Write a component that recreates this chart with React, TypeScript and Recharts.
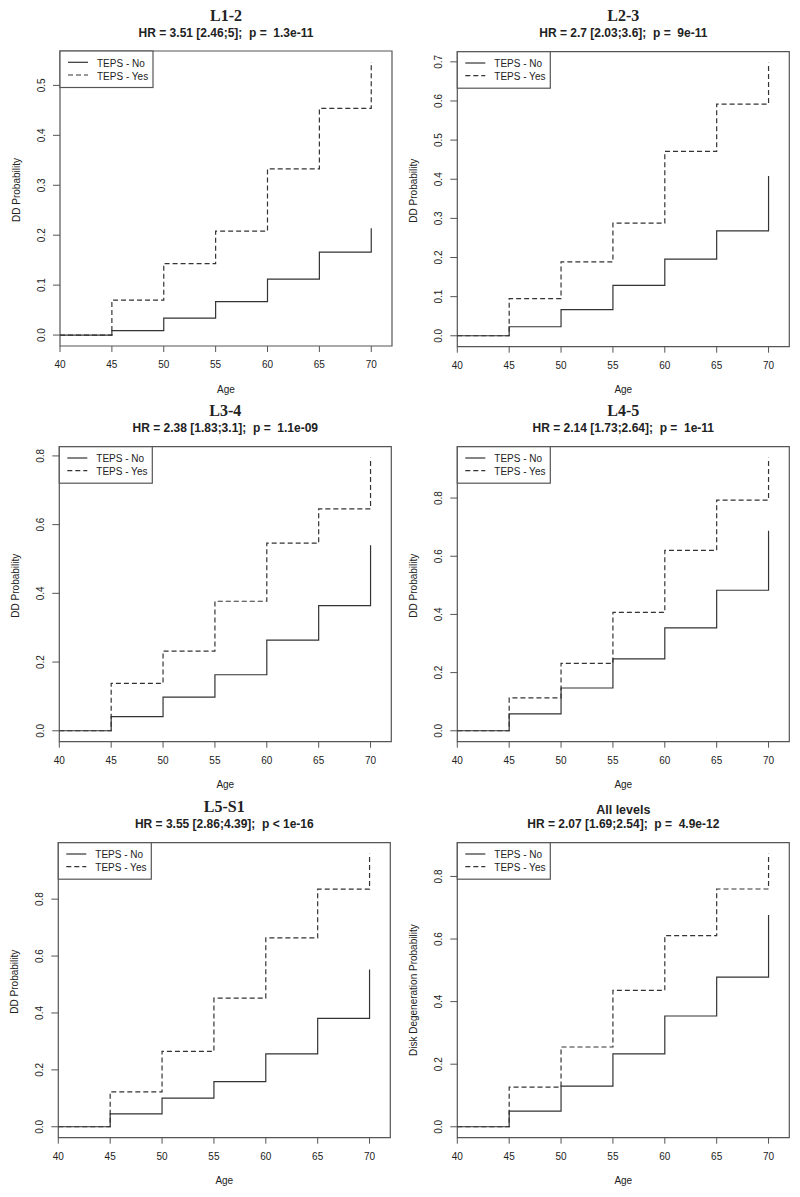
import React from 'react';
import { LineChart, Line, XAxis, YAxis, ReferenceArea } from 'recharts';

// ages where the curves step up
const ages = [40, 45, 50, 55, 60, 65, 70];

// cumulative DD probability, TEPS - No / TEPS - Yes
const l12No = [0, 0.009, 0.034, 0.067, 0.112, 0.166, 0.214];
const l12Yes = [0, 0.070, 0.143, 0.208, 0.333, 0.454, 0.547];
const l23No = [0, 0.023, 0.067, 0.129, 0.196, 0.268, 0.408];
const l23Yes = [0, 0.095, 0.189, 0.288, 0.471, 0.592, 0.698];
const l34No = [0, 0.041, 0.098, 0.163, 0.264, 0.364, 0.540];
const l34Yes = [0, 0.138, 0.232, 0.377, 0.546, 0.646, 0.795];
const l45No = [0, 0.058, 0.147, 0.247, 0.354, 0.483, 0.688];
const l45Yes = [0, 0.113, 0.232, 0.407, 0.620, 0.793, 0.939];
const l5s1No = [0, 0.045, 0.101, 0.159, 0.256, 0.381, 0.553];
const l5s1Yes = [0, 0.123, 0.265, 0.452, 0.664, 0.835, 0.960];
const allNo = [0, 0.050, 0.130, 0.233, 0.354, 0.478, 0.677];
const allYes = [0, 0.127, 0.255, 0.436, 0.611, 0.760, 0.873];

const ticksTenth5 = [0, 0.1, 0.2, 0.3, 0.4, 0.5];
const ticksTenth7 = [0, 0.1, 0.2, 0.3, 0.4, 0.5, 0.6, 0.7];
const ticksFifth8 = [0, 0.2, 0.4, 0.6, 0.8];

const titles = ['L1-2', 'L2-3', 'L3-4', 'L4-5', 'L5-S1', 'All levels'];
const subtitles = [
    'HR = 3.51 [2.46;5];  p =  1.3e-11',
    'HR = 2.7 [2.03;3.6];  p =  9e-11',
    'HR = 2.38 [1.83;3.1];  p =  1.1e-09',
    'HR = 2.14 [1.73;2.64];  p =  1e-11',
    'HR = 3.55 [2.86;4.39];  p < 1e-16',
    'HR = 2.07 [1.69;2.54];  p =  4.9e-12',
];

const SANS = "'Liberation Sans', Arial, sans-serif";
const SERIF = "'Liberation Serif', 'Times New Roman', serif";
const INK = '#222';
const LINE = '#333';
const FRAME = '#555';
const BOX_W = 332;
const BOX_H = 295;

const panels = [
    { left: 0, top: 0, boxLeft: 60, boxTop: 51, no: l12No, yes: l12Yes, yTicks: ticksTenth5, yLabel: 'DD Probability', serifTitle: true },
    { left: 400, top: 0, boxLeft: 57.3, boxTop: 51.7, no: l23No, yes: l23Yes, yTicks: ticksTenth7, yLabel: 'DD Probability', serifTitle: true },
    { left: 0, top: 395, boxLeft: 59.3, boxTop: 51.7, no: l34No, yes: l34Yes, yTicks: ticksFifth8, yLabel: 'DD Probability', serifTitle: true },
    { left: 400, top: 395, boxLeft: 57.3, boxTop: 51.7, no: l45No, yes: l45Yes, yTicks: ticksFifth8, yLabel: 'DD Probability', serifTitle: true },
    { left: 0, top: 795, boxLeft: 58.3, boxTop: 47.7, no: l5s1No, yes: l5s1Yes, yTicks: ticksFifth8, yLabel: 'DD Probability', serifTitle: true },
    { left: 400, top: 795, boxLeft: 57.3, boxTop: 47.7, no: allNo, yes: allYes, yTicks: ticksFifth8, yLabel: 'Disk Degeneration Probability', serifTitle: false },
];

const XTick = (props: any) => {
    const { x, y, payload } = props;
    return (
        <text x={x} y={y + 14} textAnchor="middle" fontFamily={SANS} fontSize={10} fill={INK}>
            {payload.value}
        </text>
    );
};

const YTick = (props: any) => {
    const { x, y, payload } = props;
    return (
        <text transform={`translate(${x - 6},${y}) rotate(-90)`} textAnchor="middle" fontFamily={SANS} fontSize={10} fill={INK}>
            {Number(payload.value).toFixed(1)}
        </text>
    );
};

const Panel = ({ p, idx }: any) => {
    const W = 400;
    const H = 400;
    const max = Math.max(...p.yes);
    const yMin = -0.04 * max;
    const yMax = 1.04 * max;
    const data = ages.map((a, i) => ({ age: a, no: p.no[i], yes: p.yes[i] }));
    const cx = p.boxLeft + BOX_W / 2;
    const yLabelShift = p.yLabel === 'DD Probability' ? -8.5 : 0;

    return (
        <div style={{ position: 'absolute', left: p.left, top: p.top, width: W, height: H }}>
            <LineChart
                width={W}
                height={H}
                data={data}
                margin={{ top: p.boxTop, right: W - p.boxLeft - BOX_W, bottom: 0, left: 0 }}
            >
                <XAxis
                    dataKey="age"
                    type="number"
                    domain={[40, 72]}
                    ticks={ages}
                    height={H - p.boxTop - BOX_H}
                    axisLine={false}
                    tickLine={{ stroke: FRAME }}
                    tickSize={6}
                    tick={<XTick />}
                    interval={0}
                />
                <YAxis
                    type="number"
                    domain={[yMin, yMax]}
                    ticks={p.yTicks}
                    width={p.boxLeft}
                    axisLine={false}
                    tickLine={{ stroke: FRAME }}
                    tickSize={7}
                    tick={<YTick />}
                    interval={0}
                    allowDataOverflow
                />
                <ReferenceArea x1={40} x2={72} y1={yMin} y2={yMax} fill="none" stroke={FRAME} strokeWidth={1.2} ifOverflow="visible" />
                <Line type="stepAfter" dataKey="no" stroke={LINE} strokeWidth={1.2} dot={false} isAnimationActive={false} />
                <Line type="stepAfter" dataKey="yes" stroke={LINE} strokeWidth={1.2} strokeDasharray="5 3" dot={false} isAnimationActive={false} />
            </LineChart>

            <svg width={W} height={H} style={{ position: 'absolute', left: 0, top: 0, pointerEvents: 'none' }}>
                {p.serifTitle ? (
                    <text x={cx} y={p.boxTop - 30.5} textAnchor="middle" fontFamily={SERIF} fontWeight="bold" fontSize={16} fill={INK}>
                        {titles[idx]}
                    </text>
                ) : (
                    <text x={cx} y={p.boxTop - 28.6} textAnchor="middle" fontFamily={SANS} fontWeight="bold" fontSize={12.5} fill={INK}>
                        {titles[idx]}
                    </text>
                )}
                <text
                    x={cx}
                    y={p.boxTop - 14.5}
                    textAnchor="middle"
                    fontFamily={SANS}
                    fontWeight="bold"
                    fontSize={12}
                    fill={INK}
                    style={{ whiteSpace: 'pre' }}
                >
                    {subtitles[idx]}
                </text>
                <text x={cx} y={p.boxTop + BOX_H + 46.7} textAnchor="middle" fontFamily={SANS} fontSize={10} fill={INK}>
                    Age
                </text>
                <text
                    transform={`translate(${p.boxLeft - 40},${p.boxTop + BOX_H / 2 + yLabelShift}) rotate(-90)`}
                    textAnchor="middle"
                    fontFamily={SANS}
                    fontSize={10}
                    fill={INK}
                >
                    {p.yLabel}
                </text>

                {/* legend */}
                <g transform={`translate(${p.boxLeft},${p.boxTop})`}>
                    <rect x={0} y={0} width={93} height={36.5} fill="#fff" stroke={FRAME} strokeWidth={1.2} />
                    <line x1={8} x2={28} y1={11.3} y2={11.3} stroke={LINE} strokeWidth={1.2} />
                    <line x1={8} x2={28} y1={24} y2={24} stroke={LINE} strokeWidth={1.2} strokeDasharray="5 3" />
                    <text x={37} y={15.8} fontFamily={SANS} fontSize={10} fill={INK}>TEPS - No</text>
                    <text x={37} y={28.5} fontFamily={SANS} fontSize={10} fill={INK}>TEPS - Yes</text>
                </g>
            </svg>
        </div>
    );
};

export default function App() {
    return (
        <div style={{ position: 'absolute', left: 0, top: 0, width: 800, height: 1197, background: '#fff' }}>
            {panels.map((p, i) => (
                <Panel key={titles[i]} p={p} idx={i} />
            ))}
        </div>
    );
}
